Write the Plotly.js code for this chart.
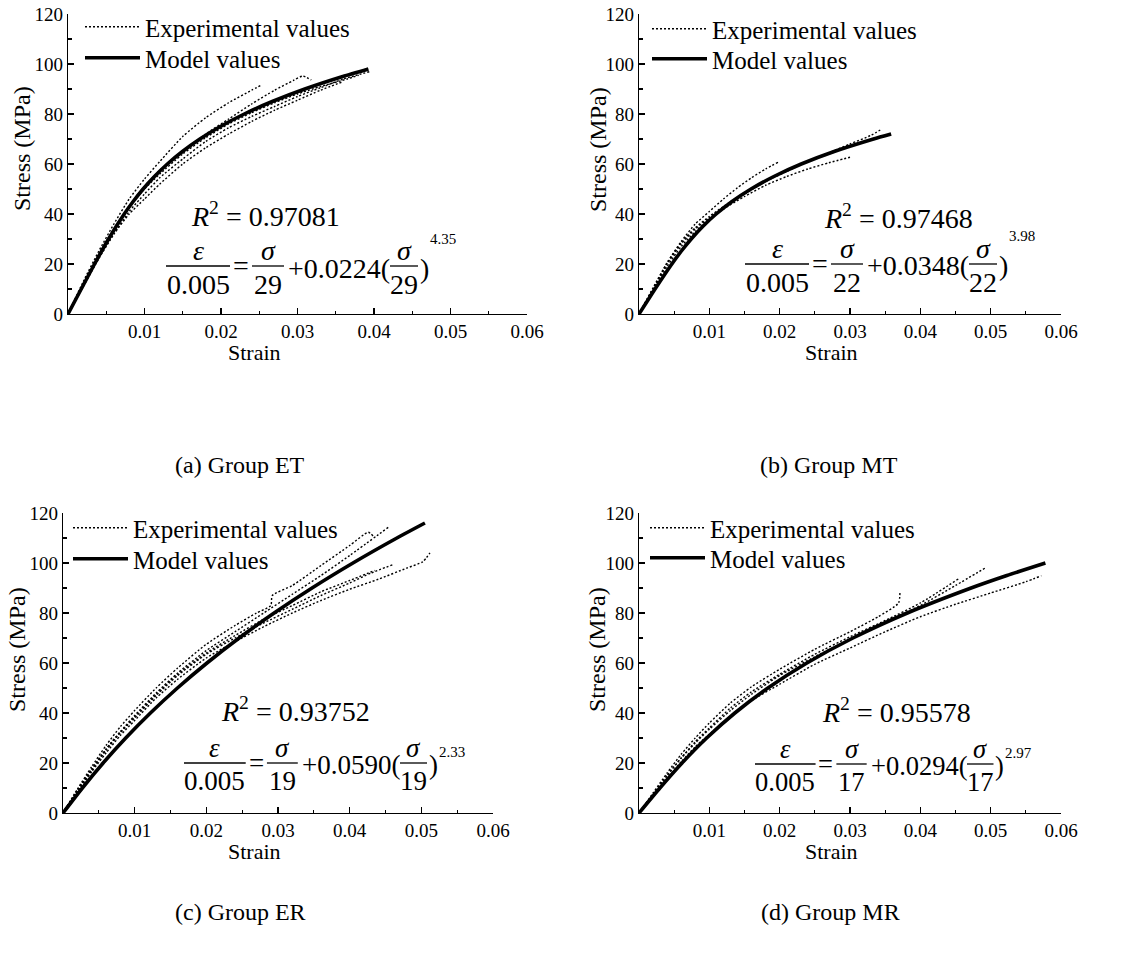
<!DOCTYPE html>
<html>
<head>
<meta charset="utf-8">
<script src="https://cdn.plot.ly/plotly-3.0.1.min.js"></script>
<style>html,body{margin:0;padding:0;background:#fff;}#chart{width:1131px;height:956px;}</style>
</head>
<body>
<div id="chart"></div>
<script>
// ---------------- DATA ----------------
const strainTickVals = [0.01, 0.02, 0.03, 0.04, 0.05, 0.06];
const strainTickText = ['0.01', '0.02', '0.03', '0.04', '0.05', '0.06'];
const stressTickVals = [0, 20, 40, 60, 80, 100, 120];
const stressTickText = ['0', '20', '40', '60', '80', '100', '120'];

const groupCaptions = ['(a) Group ET', '(b) Group MT', '(c) Group ER', '(d) Group MR'];
const r2Values = ['0.97081', '0.97468', '0.93752', '0.95578'];
const eqDenominators = ['29', '22', '19', '17'];
const eqCoefficients = ['0.0224', '0.0348', '0.0590', '0.0294'];
const eqExponents = ['4.35', '3.98', '2.33', '2.97'];

// (a) Group ET
const modelET_strain = [0, 0.00173, 0.00347, 0.00530, 0.00735, 0.00852, 0.00982, 0.01130, 0.01299, 0.01496, 0.01724, 0.01992, 0.02304, 0.02670, 0.03096, 0.03592, 0.03927];
const modelET_stress = [0, 10, 20, 30, 40, 45, 50, 55, 60, 65, 70, 75, 80, 85, 90, 95, 98];
const expET1_strain = [0, 0.002, 0.004, 0.006, 0.008, 0.010, 0.012, 0.015, 0.018, 0.021, 0.024, 0.0253];
const expET1_stress = [0, 13, 25, 36, 46, 54, 61, 71, 78.5, 84.5, 89.5, 91.6];
const expET2_strain = [0, 0.002, 0.004, 0.006, 0.008, 0.010, 0.012, 0.015, 0.018, 0.021, 0.024, 0.027, 0.0295, 0.0307, 0.0318];
const expET2_stress = [0, 12, 24, 34, 43, 51, 57.5, 65, 72, 78, 84, 89.5, 93.5, 95.2, 93.6];
const expET3_strain = [0, 0.002, 0.004, 0.006, 0.008, 0.010, 0.012, 0.015, 0.018, 0.021, 0.024, 0.027, 0.030, 0.033, 0.036, 0.0395];
const expET3_stress = [0, 11, 22, 32, 41, 48, 54.5, 62, 69, 74.5, 79, 83, 87, 90.5, 94, 97];
const expET4_strain = [0, 0.002, 0.004, 0.006, 0.008, 0.010, 0.012, 0.015, 0.018, 0.021, 0.024, 0.027, 0.030, 0.033, 0.036];
const expET4_stress = [0, 11.5, 22.5, 32, 40, 46, 52, 60, 66.5, 72, 77, 81.5, 85.5, 89.5, 93];
const expET5_strain = [0, 0.002, 0.004, 0.006, 0.008, 0.010, 0.012, 0.015, 0.018, 0.021, 0.024, 0.027, 0.030, 0.033, 0.0365, 0.038];
const expET5_stress = [0, 12, 23.5, 34, 43, 50, 56, 64, 70.5, 76, 80.5, 84.5, 88, 91, 94, 95.5];

// (b) Group MT
const modelMT_strain = [0, 0.00114, 0.00228, 0.00467, 0.00597, 0.00742, 0.00906, 0.01097, 0.01323, 0.01593, 0.01917, 0.02307, 0.02775, 0.03334, 0.03585];
const modelMT_stress = [0, 5, 10, 20, 25, 30, 35, 40, 45, 50, 55, 60, 65, 70, 72];
const expMT1_strain = [0, 0.002, 0.004, 0.006, 0.008, 0.010, 0.012, 0.014, 0.016, 0.018, 0.0198];
const expMT1_stress = [0, 10, 20.5, 29, 36, 41, 46, 50.5, 54.5, 58, 60.7];
const expMT2_strain = [0, 0.002, 0.004, 0.006, 0.008, 0.010, 0.012, 0.015, 0.018, 0.021, 0.024, 0.027, 0.030];
const expMT2_stress = [0, 9.5, 19, 27, 33, 38, 42, 47, 51.5, 55, 58, 60.5, 62.7];
const expMT3_strain = [0, 0.002, 0.004, 0.006, 0.008, 0.010, 0.012, 0.015, 0.018, 0.021, 0.024, 0.027, 0.0293];
const expMT3_stress = [0, 10, 20, 28, 34, 38.5, 42.5, 48, 53, 57, 61, 64, 66.5];
const expMT4_strain = [0, 0.002, 0.004, 0.006, 0.008, 0.010, 0.012, 0.015, 0.018, 0.021, 0.024, 0.027, 0.030, 0.033, 0.0343];
const expMT4_stress = [0, 10.5, 20.5, 28.5, 34.5, 39, 43, 48.5, 53, 57.5, 61, 64.5, 68, 71.5, 73.6];

// (c) Group ER
const modelER_strain = [0, 0.00270, 0.00560, 0.00875, 0.01220, 0.01597, 0.02009, 0.02458, 0.02946, 0.03475, 0.04046, 0.04659, 0.0505];
const modelER_stress = [0, 10, 20, 30, 40, 50, 60, 70, 80, 90, 100, 110, 116];
const expER1_strain = [0, 0.002, 0.004, 0.006, 0.008, 0.010, 0.013, 0.016, 0.020, 0.024, 0.027, 0.029, 0.0292, 0.032, 0.036, 0.040, 0.0426, 0.0433];
const expER1_stress = [0, 9.5, 18.5, 27, 34.5, 41, 50, 58, 67.5, 75, 80, 83, 87, 91, 99, 107, 112.3, 110.7];
const expER2_strain = [0, 0.002, 0.004, 0.006, 0.008, 0.010, 0.013, 0.016, 0.020, 0.024, 0.028, 0.032, 0.036, 0.040, 0.0456];
const expER2_stress = [0, 9, 17.5, 25.5, 32.5, 39, 48, 56, 65, 72.5, 80, 87.5, 95, 103, 114.7];
const expER3_strain = [0, 0.002, 0.004, 0.006, 0.008, 0.010, 0.013, 0.016, 0.020, 0.024, 0.028, 0.032, 0.036, 0.040, 0.043, 0.046];
const expER3_stress = [0, 8.5, 17, 25, 32, 38, 47, 55, 63.5, 70, 76, 81.5, 87, 92, 96, 99.3];
const expER4_strain = [0, 0.002, 0.004, 0.006, 0.008, 0.010, 0.013, 0.016, 0.020, 0.024, 0.028, 0.032, 0.036, 0.040, 0.044, 0.048, 0.0502, 0.0512];
const expER4_stress = [0, 8.5, 16.5, 24, 31, 37, 46, 53.5, 62, 68.5, 74.5, 80, 85, 89.5, 93.5, 98, 100.5, 104];
const expER5_strain = [0, 0.002, 0.004, 0.006, 0.008, 0.010, 0.013, 0.016, 0.020, 0.024, 0.028, 0.032, 0.036, 0.040, 0.0435];
const expER5_stress = [0, 9, 17.5, 25.5, 32.5, 38.5, 47.5, 55.5, 64, 71, 77.5, 83, 88.5, 93, 97];

// (d) Group MR
const modelMR_strain = [0, 0.00297, 0.00612, 0.00962, 0.01363, 0.01833, 0.02387, 0.03042, 0.03815, 0.04722, 0.0523, 0.05778];
const modelMR_stress = [0, 10, 20, 30, 40, 50, 60, 70, 80, 90, 95, 100];
const expMR1_strain = [0, 0.002, 0.004, 0.006, 0.008, 0.010, 0.013, 0.016, 0.020, 0.025, 0.030, 0.034, 0.0369, 0.0371];
const expMR1_stress = [0, 8, 16, 23.5, 30, 36, 44, 50.5, 57.5, 65.5, 72.5, 78.5, 84, 88.7];
const expMR2_strain = [0, 0.002, 0.004, 0.006, 0.008, 0.010, 0.013, 0.016, 0.020, 0.025, 0.030, 0.035, 0.040, 0.0454];
const expMR2_stress = [0, 7.5, 15, 22, 28.5, 34, 42, 48.5, 55.5, 63.5, 70.5, 77, 84, 93.6];
const expMR3_strain = [0, 0.002, 0.004, 0.006, 0.008, 0.010, 0.013, 0.016, 0.020, 0.025, 0.030, 0.035, 0.040, 0.045, 0.0494];
const expMR3_stress = [0, 7.5, 15, 22, 28, 33.5, 41, 47.5, 55, 62.5, 69.5, 76.5, 83, 91, 98.3];
const expMR4_strain = [0, 0.002, 0.004, 0.006, 0.008, 0.010, 0.013, 0.016, 0.020, 0.025, 0.030, 0.035, 0.040, 0.045, 0.050, 0.055, 0.0572];
const expMR4_stress = [0, 7, 14, 20.5, 26.5, 31.5, 38.5, 45, 51.5, 59.5, 66, 72.5, 78.5, 83.5, 88, 92.5, 94.9];

// ---------------- LAYOUT / DRAWING ----------------
const W = 1131, H = 956;
const SERIF = '"Liberation Serif", "Times New Roman", Times, serif';
const px = v => v / W;
const py = v => 1 - v / H;

const panels = [
  { xr: [68, 527], yr: [14, 314], legX: 80, legY: [27, 58],
    eq: { X0: 166, Yb: 266, F: 28, rx: 190, ry: 214, sdy: -27 },
    strainPos: [254, 352], stressPos: [22, 149], capPos: [240, 465],
    exps: [[expET1_strain, expET1_stress], [expET2_strain, expET2_stress], [expET3_strain, expET3_stress], [expET4_strain, expET4_stress], [expET5_strain, expET5_stress]],
    model: [modelET_strain, modelET_stress] },
  { xr: [639, 1061], yr: [14, 314], legX: 647, legY: [29, 59],
    eq: { X0: 745, Yb: 264, F: 28, rx: 823, ry: 216, sdy: -28 },
    strainPos: [831, 352], stressPos: [598, 150], capPos: [829, 465],
    exps: [[expMT1_strain, expMT1_stress], [expMT2_strain, expMT2_stress], [expMT3_strain, expMT3_stress], [expMT4_strain, expMT4_stress]],
    model: [modelMT_strain, modelMT_stress] },
  { xr: [63, 493], yr: [513, 813], legX: 68, legY: [528, 559],
    eq: { X0: 184, Yb: 763, F: 27, rx: 220, ry: 709, sdy: -11 },
    strainPos: [254, 851], stressPos: [17, 650], capPos: [240, 912],
    exps: [[expER1_strain, expER1_stress], [expER2_strain, expER2_stress], [expER3_strain, expER3_stress], [expER4_strain, expER4_stress], [expER5_strain, expER5_stress]],
    model: [modelER_strain, modelER_stress] },
  { xr: [639, 1061], yr: [513, 813], legX: 645, legY: [528, 558],
    eq: { X0: 755, Yb: 764, F: 26.5, rx: 821, ry: 710, sdy: -11 },
    strainPos: [831, 851], stressPos: [597, 650], capPos: [830, 912],
    exps: [[expMR1_strain, expMR1_stress], [expMR2_strain, expMR2_stress], [expMR3_strain, expMR3_stress], [expMR4_strain, expMR4_stress]],
    model: [modelMR_strain, modelMR_stress] }
];

const traces = [];
const annotations = [];
const shapes = [];
const layout = {
  width: W, height: H,
  margin: { l: 0, r: 0, t: 0, b: 0, pad: 0 },
  paper_bgcolor: '#fff', plot_bgcolor: 'rgba(0,0,0,0)',
  font: { family: SERIF, color: '#000', size: 19 },
  showlegend: true,
  hovermode: false,
  annotations: annotations,
  shapes: shapes
};

function textAnn(text, x, y, size, xanchor, extra) {
  return Object.assign({
    text: text, xref: 'paper', yref: 'paper', x: px(x), y: py(y),
    xanchor: xanchor || 'center', yanchor: 'middle', showarrow: false,
    font: { family: SERIF, size: size, color: '#000' }, borderpad: 0
  }, extra || {});
}

function fraction(X, width, Yb, num, den, F) {
  shapes.push({ type: 'line', xref: 'paper', yref: 'paper', x0: px(X), x1: px(X + width), y0: py(Yb), y1: py(Yb), line: { color: '#000', width: 1.3 } });
  annotations.push(textAnn(num, X + width / 2, Yb - 16 * F / 28, F, 'center'));
  annotations.push(textAnn(den, X + width / 2, Yb + 19 * F / 28, F, 'center'));
}

function legendCfg(x, centerY) {
  return {
    x: px(x), y: py(centerY - 23), xanchor: 'left', yanchor: 'top',
    bgcolor: 'rgba(0,0,0,0)', borderwidth: 0, itemwidth: 55,
    font: { family: SERIF, size: 25, color: '#000' }, traceorder: 'normal'
  };
}

panels.forEach((p, i) => {
  const n = i === 0 ? '' : String(i + 1);
  const xa = 'x' + n, ya = 'y' + n;
  const legExp = i === 0 ? 'legend' : 'legend' + (2 * i + 1);
  const legModel = 'legend' + (2 * i + 2);

  layout['xaxis' + n] = {
    domain: [px(p.xr[0]), px(p.xr[1])], anchor: ya, range: [0, 0.06],
    showline: true, linecolor: '#000', linewidth: 1.3, mirror: false,
    ticks: 'inside', ticklen: 6, tickwidth: 1.3, tickcolor: '#000',
    tickmode: 'array', tickvals: strainTickVals, ticktext: strainTickText,
    tickfont: { family: SERIF, size: 19, color: '#000' },
    minor: { tickmode: 'linear', tick0: 0, dtick: 0.005, ticks: 'inside', ticklen: 3.5, tickwidth: 1.1, tickcolor: '#000', showgrid: false },
    showgrid: false, zeroline: false, fixedrange: true
  };
  layout['yaxis' + n] = {
    domain: [py(p.yr[1]), py(p.yr[0])], anchor: xa, range: [0, 120],
    showline: true, linecolor: '#000', linewidth: 1.3, mirror: false,
    ticks: 'inside', ticklen: 6, tickwidth: 1.3, tickcolor: '#000',
    tickmode: 'array', tickvals: stressTickVals, ticktext: stressTickText,
    tickfont: { family: SERIF, size: 19, color: '#000' },
    minor: { tickmode: 'linear', tick0: 0, dtick: 10, ticks: 'inside', ticklen: 3.5, tickwidth: 1.1, tickcolor: '#000', showgrid: false },
    showgrid: false, zeroline: false, fixedrange: true
  };
  layout[legExp] = legendCfg(p.legX, p.legY[0]);
  layout[legModel] = legendCfg(p.legX, p.legY[1]);

  p.exps.forEach((e, k) => {
    traces.push({
      type: 'scatter', mode: 'lines', x: e[0], y: e[1], xaxis: xa, yaxis: ya,
      name: 'Experimental values', legend: legExp, showlegend: k === 0,
      line: { color: '#000', width: 1.4, dash: '2px,2px', shape: 'spline', smoothing: 0.6 },
      hoverinfo: 'skip'
    });
  });
  traces.push({
    type: 'scatter', mode: 'lines', x: p.model[0], y: p.model[1], xaxis: xa, yaxis: ya,
    name: 'Model values', legend: legModel, showlegend: true,
    line: { color: '#000', width: 3.6, shape: 'spline', smoothing: 0.6 },
    hoverinfo: 'skip'
  });

  // axis titles & captions
  annotations.push(textAnn('Strain', p.strainPos[0], p.strainPos[1], 22, 'center'));
  annotations.push(textAnn('Stress (MPa)', p.stressPos[0], p.stressPos[1], 24, 'center', { textangle: -90 }));
  annotations.push(textAnn(groupCaptions[i], p.capPos[0], p.capPos[1], 24, 'center'));

  // R^2 and equation
  const e = p.eq;
  const F = e.F, s = e.F / 28;
  annotations.push(textAnn('<i>R</i><sup>2</sup> = ' + r2Values[i], e.rx, e.ry, 28, 'left'));
  fraction(e.X0, 64 * s, e.Yb, '<i>ε</i>', '0.005', F);
  annotations.push(textAnn('=', e.X0 + 75 * s, e.Yb, F, 'center'));
  fraction(e.X0 + 86 * s, 32 * s, e.Yb, '<i>σ</i>', eqDenominators[i], F);
  annotations.push(textAnn('+' + eqCoefficients[i] + '(', e.X0 + 121 * s, e.Yb + 2, F, 'left'));
  fraction(e.X0 + 224 * s, 28 * s, e.Yb, '<i>σ</i>', eqDenominators[i], F);
  annotations.push(textAnn(')', e.X0 + 253 * s, e.Yb + 2, F, 'left'));
  annotations.push(textAnn(eqExponents[i], e.X0 + 263 * s, e.Yb + e.sdy, 15, 'left'));
});

Plotly.newPlot('chart', traces, layout, { displayModeBar: false, staticPlot: true });
</script>
</body>
</html>
